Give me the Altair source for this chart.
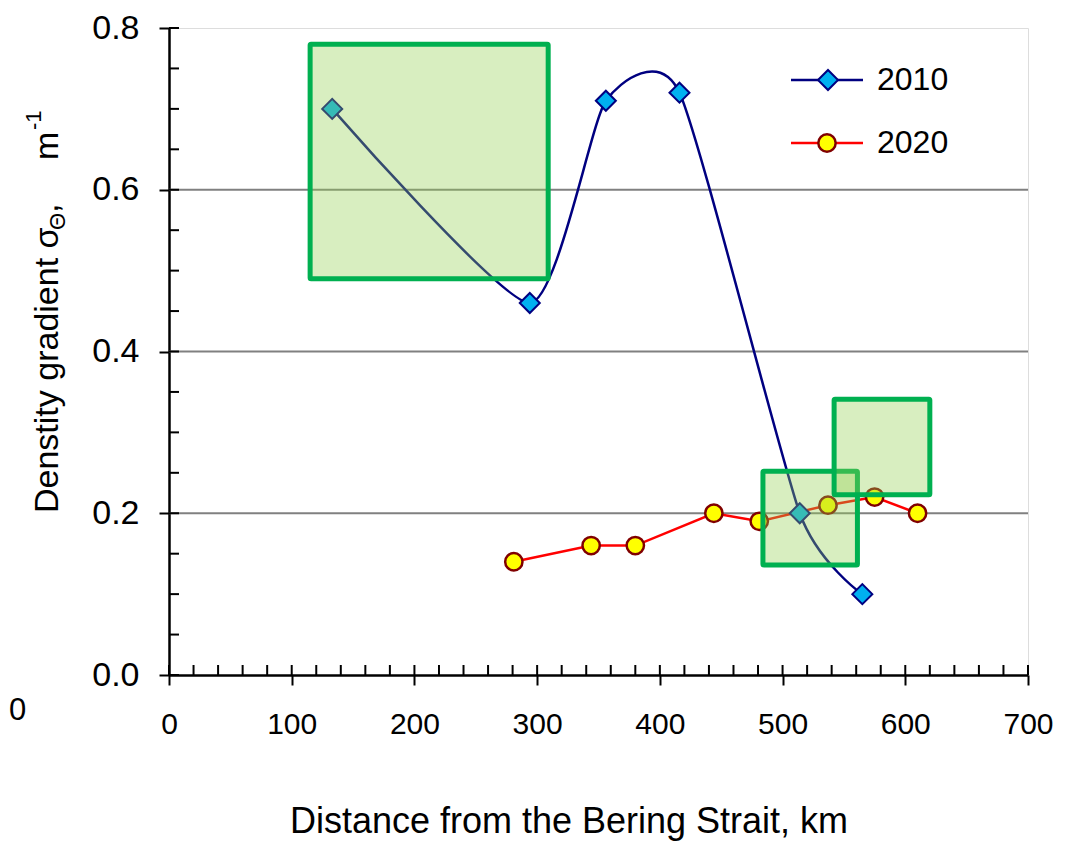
import altair as alt
import pandas as pd

# ---- data ----
x2010 = [133, 294, 356, 416, 514, 565]
y2010 = [0.70, 0.46, 0.71, 0.72, 0.20, 0.10]
x2020 = [281, 344, 380, 444, 481, 537, 575, 610]
y2020 = [0.14, 0.16, 0.16, 0.20, 0.19, 0.21, 0.22, 0.20]

box_x1 = [115, 484, 542]
box_x2 = [309, 561, 620]
box_y1 = [0.49, 0.136, 0.223]
box_y2 = [0.78, 0.252, 0.341]

x_ticks = [0, 100, 200, 300, 400, 500, 600, 700]
y_ticks = [0.0, 0.2, 0.4, 0.6, 0.8]
grid_y = [0.2, 0.4, 0.6]
x_minor = list(range(0, 701, 20))
y_minor = [i / 20 for i in range(0, 17)]

W, H = 859, 647
FONT = "Liberation Sans"

xs = alt.Scale(domain=[0, 700], nice=False, zero=False)
ys = alt.Scale(domain=[0, 0.8], nice=False, zero=False)

axX = alt.Axis(values=x_ticks, title=None, grid=False, labelFont=FONT,
               labelFontSize=30, labelColor="black", labelPadding=24, tickSize=10,
               tickWidth=2, tickColor="black", domainColor="black", domainWidth=2.5,
               labelFlush=False, labelOverlap=False)
axY = alt.Axis(values=y_ticks, format=".1f", title=None, grid=False, labelFont=FONT,
               labelFontSize=34, labelColor="black", labelPadding=20, tickSize=10,
               tickWidth=2, tickColor="black", domainColor="black", domainWidth=2.5,
               labelFlush=False, labelOverlap=False)

df10 = pd.DataFrame({"x": x2010, "y": y2010})
df20 = pd.DataFrame({"x": x2020, "y": y2020})
dfbox = pd.DataFrame({"x1": box_x1, "x2": box_x2, "y1": box_y1, "y2": box_y2})
dfgrid = pd.DataFrame({"y": grid_y})
dfxm = pd.DataFrame({"x": x_minor})
dfym = pd.DataFrame({"y": y_minor})

grid = alt.Chart(dfgrid).mark_rule(color="#808080", strokeWidth=2).encode(
    y=alt.Y("y:Q", scale=ys, axis=axY),
    x=alt.value(0), x2=alt.value(W))

xminor = alt.Chart(dfxm).mark_rule(color="black", strokeWidth=2).encode(
    x=alt.X("x:Q", scale=xs, axis=axX),
    y=alt.value(H), y2=alt.value(H - 10))

yminor = alt.Chart(dfym).mark_rule(color="black", strokeWidth=2).encode(
    y=alt.Y("y:Q", scale=ys, axis=axY),
    x=alt.value(0), x2=alt.value(10))

line10 = alt.Chart(df10).mark_line(color="#000080", strokeWidth=2.5,
                                   interpolate="cardinal", tension=0.4).encode(
    x=alt.X("x:Q", scale=xs, axis=axX), y=alt.Y("y:Q", scale=ys, axis=axY))
pts10 = alt.Chart(df10).mark_point(shape="diamond", filled=True, fill="#00b0f0",
                                   stroke="#000080", strokeWidth=2, size=400,
                                   opacity=1).encode(
    x=alt.X("x:Q", scale=xs, axis=axX), y=alt.Y("y:Q", scale=ys, axis=axY))

line20 = alt.Chart(df20).mark_line(color="#ff0000", strokeWidth=2.5).encode(
    x=alt.X("x:Q", scale=xs, axis=axX), y=alt.Y("y:Q", scale=ys, axis=axY))
pts20 = alt.Chart(df20).mark_point(shape="circle", filled=True, fill="#ffff00",
                                   stroke="#800000", strokeWidth=2.5, size=300,
                                   opacity=1).encode(
    x=alt.X("x:Q", scale=xs, axis=axX), y=alt.Y("y:Q", scale=ys, axis=axY))

boxes = alt.Chart(dfbox).mark_rect(fill="#92d050", fillOpacity=0.36,
                                   stroke="#00b050", strokeWidth=5, strokeOpacity=1,
                                   cornerRadius=1).encode(
    x=alt.X("x1:Q", scale=xs, axis=axX), x2="x2:Q",
    y=alt.Y("y1:Q", scale=ys, axis=axY), y2="y2:Q")

# ---- legend (drawn by hand, as in the reference) ----
leg_names = ["2010", "2020"]
leg_df = pd.DataFrame({"name": leg_names, "py": [52, 115]})
leg10 = pd.DataFrame({"name": ["2010"]})
leg20 = pd.DataFrame({"name": ["2020"]})
leg_line10 = alt.Chart(leg10).mark_rule(color="#000080", strokeWidth=2.5).encode(
    x=alt.value(622), x2=alt.value(694), y=alt.value(52))
leg_pt10 = alt.Chart(leg10).mark_point(shape="diamond", filled=True, fill="#00b0f0",
                                       stroke="#000080", strokeWidth=2, size=400,
                                       opacity=1).encode(
    x=alt.value(659), y=alt.value(52))
leg_line20 = alt.Chart(leg20).mark_rule(color="#ff0000", strokeWidth=2.5).encode(
    x=alt.value(622), x2=alt.value(694), y=alt.value(115))
leg_pt20 = alt.Chart(leg20).mark_point(shape="circle", filled=True, fill="#ffff00",
                                       stroke="#800000", strokeWidth=2.5, size=300,
                                       opacity=1).encode(
    x=alt.value(658), y=alt.value(115))
leg_text = alt.Chart(leg_df).mark_text(font=FONT, fontSize=32, align="left",
                                       baseline="middle", color="black").encode(
    x=alt.value(708), y=alt.Y("py:Q", scale=None), text="name:N")

# ---- titles ----
xt_df = pd.DataFrame({"t": ["Distance from the Bering Strait, km"]})
x_title = alt.Chart(xt_df).mark_text(font=FONT, fontSize=36,
                                     align="center", baseline="alphabetic",
                                     color="black").encode(
    x=alt.value(400), y=alt.value(805), text="t:N")

yt_parts = ["Denstity gradient σ", "Θ", ",", "m", "-1"]
yt_df = pd.DataFrame({"t": yt_parts,
                      "px": [-111, -104, -111, -111, -128],
                      "py": [485, 202, 185, 132, 102],
                      "fs": [34, 22, 34, 34, 22]})
y_title = alt.Chart(yt_df).mark_text(font=FONT, angle=270, align="left",
                                     baseline="alphabetic", color="black").encode(
    x=alt.X("px:Q", scale=None), y=alt.Y("py:Q", scale=None),
    size=alt.Size("fs:Q", scale=None, legend=None), text="t:N")

stray_df = pd.DataFrame({"t": ["0"]})
stray = alt.Chart(stray_df).mark_text(font=FONT, fontSize=31, align="left",
                                      baseline="middle", color="black").encode(
    x=alt.value(-160), y=alt.value(683), text="t:N")

chart = alt.layer(
    grid, xminor, yminor, line10, line20, pts10, pts20, boxes,
    leg_line10, leg_line20, leg_pt10, leg_pt20, leg_text,
    x_title, y_title, stray
).properties(
    width=W, height=H,
    autosize=alt.AutoSizeParams(type="none"),
    padding={"left": 161, "top": 20, "right": 30, "bottom": 166},
).configure_view(
    stroke="black", strokeWidth=2.5
).configure(background="white")

chart.save("out.html", embed_options={"renderer": "svg", "actions": False})
